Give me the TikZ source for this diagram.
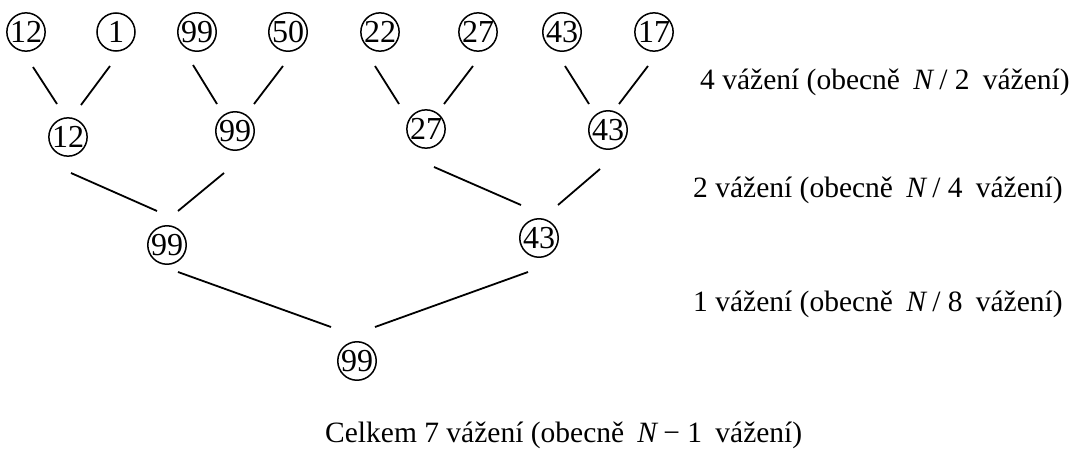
\documentclass[tikz,border=0pt]{standalone}
\usepackage{fontspec}
\setmainfont{Liberation Serif}
\usetikzlibrary{calc}
\tikzset{
  num/.style={circle,draw,line width=1.5pt,inner sep=0pt,minimum size=38pt,font=\fontsize{32}{32}\selectfont},
  lbl/.style={anchor=base west,inner sep=0pt,font=\fontsize{29.5}{29.5}\selectfont},
  edge/.style={line width=1.8pt}
}
\newcommand{\NX}[1]{\hspace{.45em}\textit{N}\,#1\hspace{.45em}}
\begin{document}
\begin{tikzpicture}[x=1pt,y=-1pt]
\useasboundingbox (0,0) rectangle (1071,450);
% leaves
\node[num] (L1) at (26,32) {12};
\node[num] (L2) at (116,32) {1};
\node[num] (L3) at (197,32) {99};
\node[num] (L4) at (288,32) {50};
\node[num] (L5) at (380,32) {22};
\node[num] (L6) at (478,32) {27};
\node[num] (L7) at (562,32) {43};
\node[num] (L8) at (654,32) {17};
% level 2
\node[num] (M1) at (68,137) {12};
\node[num] (M2) at (235,131) {99};
\node[num] (M3) at (426,129) {27};
\node[num] (M4) at (608,130) {43};
% level 3
\node[num] (P1) at (167,245) {99};
\node[num] (P2) at (539,238) {43};
% root
\node[num] (R) at (357,361) {99};
% connectors
\draw[edge] ($(L1)+(7,35)$) -- ($(M1)+(-11,-33)$);
\draw[edge] ($(L2)+(-6,34)$) -- ($(M1)+(13,-32)$);
\draw[edge] ($(L3)+(-4,33)$) -- ($(M2)+(-18,-27)$);
\draw[edge] ($(L4)+(-5,34)$) -- ($(M2)+(19,-27)$);
\draw[edge] ($(L5)+(-5,34)$) -- ($(M3)+(-27,-25)$);
\draw[edge] ($(L6)+(-5,34)$) -- ($(M3)+(18,-25)$);
\draw[edge] ($(L7)+(3,34)$) -- ($(M4)+(-19,-26)$);
\draw[edge] ($(L8)+(-6,34)$) -- ($(M4)+(11,-26)$);
\draw[edge] ($(M1)+(3,36)$) -- ($(P1)+(-10,-34)$);
\draw[edge] ($(M2)+(-11,42)$) -- ($(P1)+(11,-34)$);
\draw[edge] ($(M3)+(8,38)$) -- ($(P2)+(-18,-33)$);
\draw[edge] ($(M4)+(-8,39)$) -- ($(P2)+(19,-33)$);
\draw[edge] ($(P1)+(11,27)$) -- ($(R)+(-26,-34)$);
\draw[edge] ($(P2)+(-11,34)$) -- ($(R)+(18,-34)$);
% labels
\node[lbl] (T1) at (700,89) {4 vážení (obecně\NX{/ 2}vážení)};
\node[lbl] (T2) at (693,197) {2 vážení (obecně\NX{/ 4}vážení)};
\node[lbl] (T3) at (693,311) {1 vážení (obecně\NX{/ 8}vážení)};
\node[lbl] (T4) at (325,442) {Celkem 7 vážení (obecně\NX{− 1}vážení)};
\end{tikzpicture}
\end{document}
